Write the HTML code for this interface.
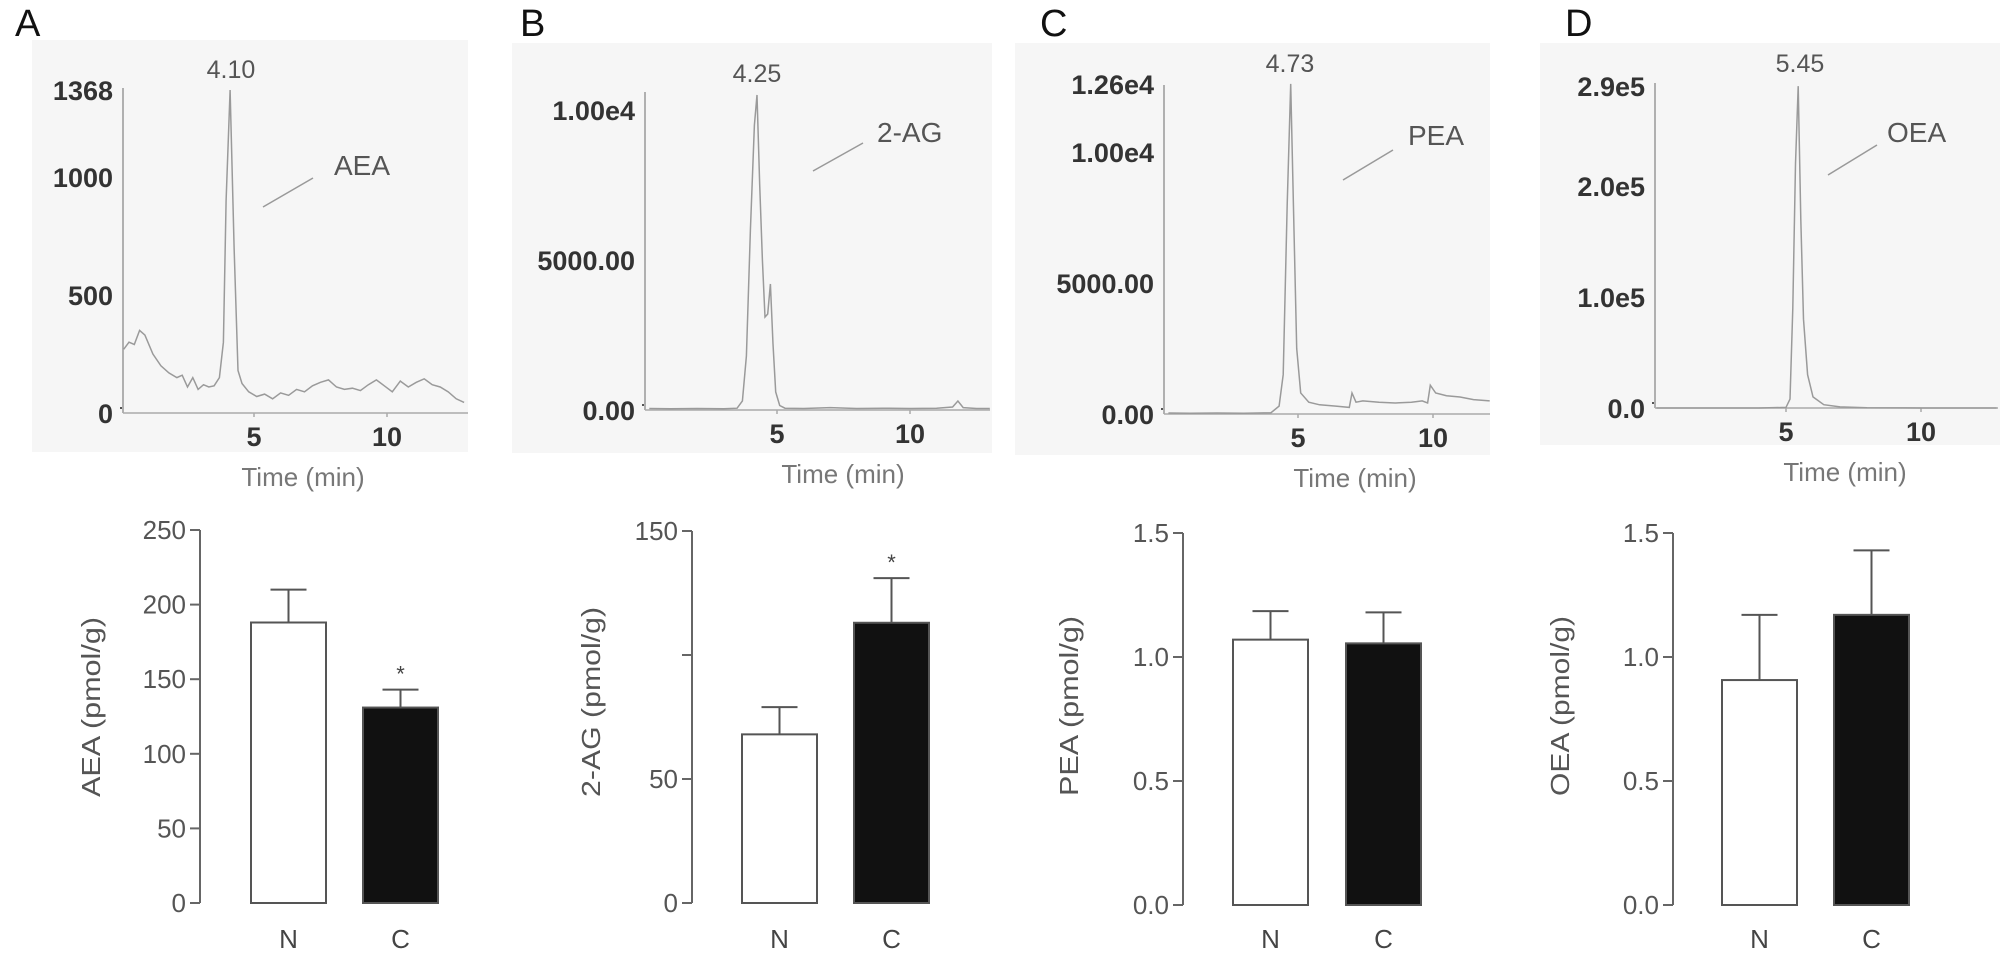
<!DOCTYPE html>
<html><head><meta charset="utf-8"><style>
html,body{margin:0;padding:0;background:#fff}
svg{display:block;font-family:"Liberation Sans",Arial,sans-serif}
</style></head><body>
<svg id="fig" width="2008" height="962" viewBox="0 0 2008 962" xmlns="http://www.w3.org/2000/svg"></svg>
<script>
// ---- chromatogram data ----
const aTimes=[0.1,0.3,0.5,0.7,0.9,1.2,1.5,1.8,2.1,2.3,2.5,2.7,2.9,3.1,3.3,3.5,3.7,3.85,3.95,4.1,4.25,4.4,4.55,4.8,5.1,5.4,5.7,6.0,6.3,6.6,6.9,7.2,7.5,7.8,8.1,8.4,8.7,9.0,9.3,9.6,9.9,10.2,10.5,10.8,11.1,11.4,11.7,12.0,12.3,12.6,12.9];
const aValues=[270,300,290,350,330,250,200,170,150,160,110,150,100,120,110,115,150,300,900,1368,700,180,125,90,70,80,60,85,75,100,90,115,130,140,110,100,105,95,120,140,115,90,135,110,130,145,120,110,90,60,45];
const bTimes=[0.2,1,2,3,3.5,3.7,3.85,4.0,4.15,4.25,4.35,4.45,4.55,4.65,4.75,4.85,4.95,5.1,5.3,6,7,8,9,10,11,11.6,11.8,12.0,12.5,13];
const bValues=[50,40,50,40,60,300,1800,6000,9500,10500,7500,5000,3100,3200,4200,2200,600,150,60,50,80,50,60,50,60,100,300,80,50,50];
const cTimes=[0.2,1,2,3,4.0,4.3,4.45,4.6,4.73,4.85,4.95,5.1,5.4,5.8,6.4,6.9,7.0,7.15,7.4,8,8.6,9.2,9.6,9.8,9.9,10.1,10.5,11,11.5,12.1];
const cValues=[40,30,40,30,50,300,1500,8000,12600,7000,2500,800,450,350,300,250,800,450,500,450,420,450,500,420,1100,800,700,650,550,500];
const dTimes=[0.2,2,4,5.0,5.15,5.25,5.35,5.45,5.55,5.65,5.8,6.0,6.4,7,8,10,12.8];
const dValues=[0,0,0,500,8000,90000,220000,290000,170000,80000,30000,10000,3000,1000,300,0,0];
// ---- bar data ----
const groups=["N","C"];
const aeaMeans=[188,131];  const aeaErr=[22,12];
const agMeans=[68,113];    const agErr=[11,18];
const peaMeans=[1.07,1.055]; const peaErr=[0.115,0.125];
const oeaMeans=[0.907,1.17]; const oeaErr=[0.263,0.26];
const aeaTicks=[0,50,100,150,200,250];
const agTicks=[0,50,100,150];
const agTickLabels=["0","50","","150"];
const fracTicks=[0,0.5,1.0,1.5];
const fracTickLabels=["0.0","0.5","1.0","1.5"];

const NS="http://www.w3.org/2000/svg";
const svg=document.getElementById('fig');
function mk(tag,attrs,parent){const e=document.createElementNS(NS,tag);for(const k in attrs)e.setAttribute(k,attrs[k]);(parent||svg).appendChild(e);return e;}
function txt(s,attrs,parent){const e=mk('text',attrs,parent);e.textContent=s;return e;}

function chrom(cfg){
  const g=mk('g',{});
  
  
  const bg=mk('rect',{x:cfg.box[0],y:cfg.box[1],width:cfg.box[2],height:cfg.box[3],fill:'#f6f6f6'},g);
  
  
  const xs=t=>cfg.x0+t*cfg.pxMin;
  const ys=v=>cfg.y0-(v/cfg.ymax)*(cfg.y0-cfg.ytop);
  const ya=mk('line',{x1:cfg.ax,y1:cfg.axTop,x2:cfg.ax,y2:cfg.y0,stroke:'#999','stroke-width':1.5},g);
  
  
  const xa=mk('line',{x1:cfg.ax,y1:cfg.y0,x2:cfg.xend,y2:cfg.y0,stroke:'#aaa','stroke-width':1.5},g);
  
  
  mk('line',{x1:cfg.ax-3,y1:cfg.y0-5,x2:cfg.ax-1,y2:cfg.y0-5,stroke:'#555','stroke-width':2},g);
  cfg.yt.forEach((v,i)=>{
    const t=txt(cfg.ytl[i],{x:cfg.ax-10,y:ys(v)+10,'text-anchor':'end','font-size':27,'font-weight':'bold',fill:'#333'},g);
    
    
  });
  [5,10].forEach(v=>{
    mk('line',{x1:xs(v),y1:cfg.y0,x2:xs(v),y2:cfg.y0+4,stroke:'#aaa','stroke-width':1.5},g);
    const t=txt(String(v),{x:xs(v),y:cfg.y0+33,'text-anchor':'middle','font-size':27,'font-weight':'bold',fill:'#333'},g);
    
    
  });
  const tl=txt('Time  (min)',{x:cfg.timeX,y:cfg.y0+73,'text-anchor':'middle','font-size':26,fill:'#777','xml:space':'preserve'},g);
  
  
  let d='';
  cfg.times.forEach((t,i)=>{d+=(i?'L':'M')+xs(t).toFixed(1)+','+ys(cfg.vals[i]).toFixed(1);});
  const p=mk('path',{d:d,fill:'none',stroke:'#9a9a9a','stroke-width':1.5},g);
  
  
  const pl=txt(cfg.peakLabel,{x:cfg.peakX,y:cfg.peakY,'text-anchor':'middle','font-size':25,fill:'#555'},g);
  
  
  const ln=mk('line',{x1:cfg.lead[0],y1:cfg.lead[1],x2:cfg.lead[2],y2:cfg.lead[3],stroke:'#999','stroke-width':1.5},g);
  
  
  const an=txt(cfg.name,{x:cfg.nameX,y:cfg.nameY,'font-size':28,fill:'#555'},g);
  
  
}

chrom({name:'AEA',box:[32,40,436,412],x0:121,pxMin:26.6,y0:413,ytop:90,ymax:1368,ax:123,axTop:88,xend:468,
  yt:[0,500,1000,1368],ytl:['0','500','1000','1368'],times:aTimes,vals:aValues,timeX:303,
  peakLabel:'4.10',peakX:231,peakY:78,lead:[263,207,313,178],nameX:334,nameY:175});
chrom({name:'2-AG',box:[512,43,480,410],x0:644,pxMin:26.6,y0:410,ytop:110,ymax:10000,ax:645,axTop:92,xend:990,
  yt:[0,5000,10000],ytl:['0.00','5000.00','1.00e4'],times:bTimes,vals:bValues,timeX:843,
  peakLabel:'4.25',peakX:757,peakY:82,lead:[813,171,863,143],nameX:877,nameY:142});
chrom({name:'PEA',box:[1015,43,475,412],x0:1163,pxMin:27,y0:414,ytop:152,ymax:10000,ax:1164,axTop:85,xend:1490,
  yt:[0,5000,10000,12600],ytl:['0.00','5000.00','1.00e4','1.26e4'],times:cTimes,vals:cValues,timeX:1355,
  peakLabel:'4.73',peakX:1290,peakY:72,lead:[1343,180,1393,150],nameX:1408,nameY:145});
chrom({name:'OEA',box:[1540,43,460,402],x0:1651,pxMin:27,y0:408,ytop:297,ymax:100000,ax:1655,axTop:83,xend:1998,
  yt:[0,100000,200000,290000],ytl:['0.0','1.0e5','2.0e5','2.9e5'],times:dTimes,vals:dValues,timeX:1845,
  peakLabel:'5.45',peakX:1800,peakY:72,lead:[1828,175,1877,145],nameX:1887,nameY:142});

function bars(cfg){
  const g=mk('g',{});
  
  
  const ys=v=>cfg.y0-(v/cfg.ymax)*(cfg.y0-cfg.ytop);
  const ax=mk('line',{x1:cfg.ax,y1:cfg.ytop,x2:cfg.ax,y2:cfg.y0,stroke:'#666','stroke-width':2},g);
  
  
  cfg.ticks.forEach((v,i)=>{
    mk('line',{x1:cfg.ax-10,y1:ys(v),x2:cfg.ax,y2:ys(v),stroke:'#666','stroke-width':2},g);
    const t=txt(cfg.tickLabels[i],{x:cfg.ax-14,y:ys(v)+9,'text-anchor':'end','font-size':26,fill:'#555'},g);
    
    
  });
  const yt=txt(cfg.title,{x:0,y:0,'text-anchor':'middle','font-size':26,fill:'#555',textLength:cfg.titleLen,lengthAdjust:'spacingAndGlyphs',transform:`translate(${cfg.titleX},${cfg.titleY}) rotate(-90)`},g);
  
  
  groups.forEach((gr,i)=>{
    const x=cfg.barX[i], w=75, m=cfg.means[i], e=cfg.errs[i];
    const cx=x+w/2;
    const el=mk('line',{x1:cx,y1:ys(m),x2:cx,y2:ys(m+e),stroke:'#555','stroke-width':2},g);
    
    
    mk('line',{x1:cx-18,y1:ys(m+e),x2:cx+18,y2:ys(m+e),stroke:'#555','stroke-width':2},g);
    const r=mk('rect',{x:x,y:ys(m),width:w,height:cfg.y0-ys(m),fill:i?'#111':'#fff',stroke:'#555','stroke-width':2},g);
    
    
    const l=txt(gr,{x:cx,y:948,'text-anchor':'middle','font-size':26,fill:'#444'},g);
    
    
    if(cfg.star&&i===1){
      const s=txt('*',{x:cx,y:ys(m+e)-8,'text-anchor':'middle','font-size':22,fill:'#444'},g);
      
      
    }
  });
}
bars({name:'AEA',ax:200,y0:903,ytop:530,ymax:250,ticks:aeaTicks,tickLabels:aeaTicks.map(String),means:aeaMeans,errs:aeaErr,
  barX:[251,363],title:'AEA (pmol/g)',titleX:100,titleY:707,titleLen:180,star:true});
bars({name:'2-AG',ax:692,y0:903,ytop:531,ymax:150,ticks:agTicks,tickLabels:agTickLabels,means:agMeans,errs:agErr,
  barX:[742,854],title:'2-AG (pmol/g)',titleX:600,titleY:702,titleLen:190,star:true});
bars({name:'PEA',ax:1183,y0:905,ytop:533,ymax:1.5,ticks:fracTicks,tickLabels:fracTickLabels,means:peaMeans,errs:peaErr,
  barX:[1233,1346],title:'PEA (pmol/g)',titleX:1078,titleY:706,titleLen:180,star:false});
bars({name:'OEA',ax:1673,y0:905,ytop:533,ymax:1.5,ticks:fracTicks,tickLabels:fracTickLabels,means:oeaMeans,errs:oeaErr,
  barX:[1722,1834],title:'OEA (pmol/g)',titleX:1569,titleY:706,titleLen:180,star:false});

[['A',15],['B',520],['C',1040],['D',1565]].forEach(([s,x])=>{
  const t=txt(s,{x:x,y:36,'font-size':38,fill:'#111'});
  
  
});
</script>
</body></html>
